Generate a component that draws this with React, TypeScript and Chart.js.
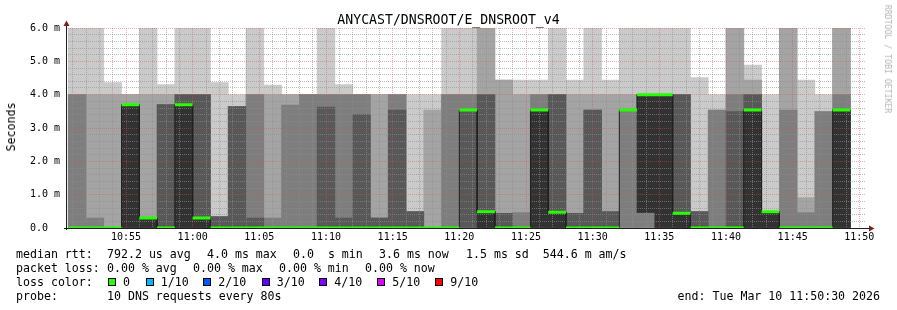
import React, { useEffect, useRef } from 'react';
import { Chart, registerables } from 'chart.js';

Chart.register(...registerables);

// ---------------- data ----------------
const TITLE = 'ANYCAST/DNSROOT/E_DNSROOT_v4';
const Y_AXIS_TITLE = 'Seconds';
const WATERMARK = 'RRDTOOL / TOBI OETIKER';

// time in seconds after the graph start (10:50:30); graph end 11:50:30
const RANGE_SEC = 3600;
const STEP_SEC = 80;
const FIRST_STEP_SEC = 10;
const TIME_TICK_LABELS = ['10:55', '11:00', '11:05', '11:10', '11:15', '11:20', '11:25', '11:30', '11:35', '11:40', '11:45', '11:50'];
const FIRST_TIME_TICK_SEC = 270;
const TIME_TICK_EVERY_SEC = 300;
const MINUTE_GRID_FIRST_SEC = 30;
const MINUTE_GRID_EVERY_SEC = 60;

const Y_MAX_MS = 6;
const Y_MINOR_MS = 0.2;
const Y_TICK_LABELS = ['0.0  ', '1.0 m', '2.0 m', '3.0 m', '4.0 m', '5.0 m', '6.0 m'];

// 10 sorted DNS round-trip times (ms) for every 80 s step
const PINGS_MS: number[][] = [
  [0, 0, 0, 0, 0, 0, 0, 4.0, 4.0, 6.0],
  [0, 0, 0, 0, 0, 0, 0, 0.3, 4.0, 6.0],
  [0, 0, 0, 0, 0, 0, 0, 0, 4.0, 4.36],
  [0, 0, 0, 0, 0, 3.7, 3.7, 3.7, 4.0, 4.0],
  [0, 0, 0, 0, 0, 0.3, 0.3, 0.3, 4.0, 6.0],
  [0, 0, 0, 0, 0, 0, 3.7, 3.7, 4.0, 4.3],
  [0, 0, 0, 0, 0, 3.7, 4.0, 4.0, 4.0, 6.0],
  [0, 0, 0, 0, 0, 0.3, 4.0, 4.0, 4.0, 6.0],
  [0, 0, 0, 0, 0, 0, 0.34, 0.34, 0.34, 4.36],
  [0, 0, 0, 0, 0, 0, 3.64, 3.64, 3.64, 4.0],
  [0, 0, 0, 0, 0, 0, 0.3, 4.0, 4.0, 6.0],
  [0, 0, 0, 0, 0, 0, 0, 0.3, 4.0, 4.29],
  [0, 0, 0, 0, 0, 0, 0, 3.69, 4.0, 4.0],
  [0, 0, 0, 0, 0, 0, 0, 4.0, 4.0, 4.0],
  [0, 0, 0, 0, 0, 0, 3.63, 4.0, 4.0, 6.0],
  [0, 0, 0, 0, 0, 0, 0.3, 4.0, 4.0, 4.3],
  [0, 0, 0, 0, 0, 0, 3.4, 4.0, 4.0, 4.0],
  [0, 0, 0, 0, 0, 0, 0.3, 0.3, 4.0, 4.0],
  [0, 0, 0, 0, 0, 0, 3.54, 4.0, 4.0, 4.0],
  [0, 0, 0, 0, 0, 0, 0.49, 0.49, 0.49, 4.0],
  [0, 0, 0, 0, 0, 0, 0, 0, 3.54, 4.0],
  [0, 0, 0, 0, 0, 0, 0, 4.0, 4.0, 6.0],
  [0, 0, 0, 0, 3.54, 3.54, 3.54, 4.0, 4.0, 6.0],
  [0, 0, 0, 0, 0, 0.49, 4.0, 4.0, 6.0, 6.0],
  [0, 0, 0, 0, 0, 0, 0.44, 0.44, 4.44, 4.44],
  [0, 0, 0, 0, 0, 0, 0, 0.46, 4.0, 4.44],
  [0, 0, 0, 0, 0, 3.54, 3.54, 4.0, 4.0, 4.44],
  [0, 0, 0, 0, 0, 0.47, 4.0, 4.0, 4.0, 6.0],
  [0, 0, 0, 0, 0, 0, 0.44, 0.44, 4.0, 4.44],
  [0, 0, 0, 0, 0, 0, 3.54, 3.54, 4.0, 6.0],
  [0, 0, 0, 0, 0, 0, 0.49, 0.49, 4.0, 4.44],
  [0, 0, 0, 3.54, 3.54, 3.54, 3.54, 3.54, 4.0, 6.0],
  [0, 0, 0, 0.47, 0.47, 4.0, 4.0, 4.0, 4.0, 6.0],
  [0, 0, 0, 0, 0, 4.0, 4.0, 4.0, 4.0, 6.0],
  [0, 0, 0, 0, 0, 0.44, 4.0, 4.0, 4.0, 6.0],
  [0, 0, 0, 0, 0, 0, 0.49, 0.49, 0.49, 4.51],
  [0, 0, 0, 0, 0, 0, 0, 3.54, 3.54, 4.0],
  [0, 0, 0, 0, 0, 0, 3.49, 4.0, 6.0, 6.0],
  [0, 0, 0, 0, 0, 3.54, 4.0, 4.0, 4.44, 4.89],
  [0, 0, 0, 0, 0, 0.49, 0.49, 0.49, 0.49, 4.0],
  [0, 0, 0, 0, 0, 0, 0, 3.54, 6.0, 6.0],
  [0, 0, 0, 0, 0, 0, 0, 0.46, 0.91, 4.44],
  [0, 0, 0, 0, 0, 0, 0, 3.49, 3.49, 4.0],
  [0, 0, 0, 0, 0, 3.54, 3.54, 4.0, 6.0, 6.0],
];

const MEDIAN_MS: number[] = [
  0, 0, 0, 3.7, 0.3, 0, 3.7, 0.3, 0, 0,
  0, 0, 0, 0, 0, 0, 0, 0, 0, 0,
  0, 0, 3.54, 0.49, 0, 0, 3.54, 0.47, 0, 0,
  0, 3.54, 4.0, 4.0, 0.44, 0, 0, 0, 3.54, 0.49,
  0, 0, 0, 3.54,
];

const SMOKE_GREYS = ['#cacaca', '#a4a4a4', '#7e7e7e', '#585858', '#323232'];
const MEDIAN_LOSS0_COLOR = '#26ff00';
const LOSS_COLORS = ['#26ff00', '#00b8ff', '#0059ff', '#5e00ff', '#7e00ff', '#dd00ff', '#ff0000'];
const LOSS_LABELS = ['0', '1/10', '2/10', '3/10', '4/10', '5/10', '9/10'];

// ---------------- layout ----------------
const W = 897;
const H = 310;
const PLOT_LEFT = 66;
const PLOT_RIGHT = 866;
const PLOT_TOP = 28;
const PLOT_BOTTOM = 228;
const MONO = "'DejaVu Sans Mono', monospace";
const GRID_MINOR = 'rgba(143,143,143,0.6)';
const GRID_MAJOR = 'rgba(222,79,79,0.45)';
const AXIS_COLOR = '#1f1f1f';
const ARROW_COLOR = '#801f1f';

const isInt = (v: number) => Math.abs(v - Math.round(v)) < 1e-9;
const stepStart = (k: number) => FIRST_STEP_SEC + k * STEP_SEC;

// median lines are drawn by their own controllers after the grid (rrdtool draws the grid under them)
const lateDrawPlugin = {
  id: 'rrdLate',
  beforeDatasetDraw(chart: any, args: any) {
    const ds = chart.data.datasets[args.index];
    if (ds && ds.$late && !chart.$lateNow) return false;
    return true;
  },
  afterDraw(chart: any) {
    chart.$lateNow = true;
    chart.data.datasets.forEach((ds: any, i: number) => {
      if (ds.$late) chart._drawDataset(chart.getDatasetMeta(i));
    });
    chart.$lateNow = false;

    const { ctx, chartArea: a } = chart;
    ctx.save();
    ctx.strokeStyle = AXIS_COLOR;
    ctx.lineWidth = 1;
    ctx.beginPath();
    ctx.moveTo(a.left - 2, a.bottom + 0.5);
    ctx.lineTo(a.right + 4, a.bottom + 0.5);
    ctx.moveTo(a.left + 0.5, a.bottom + 2);
    ctx.lineTo(a.left + 0.5, a.top - 4);
    ctx.stroke();
    ctx.fillStyle = ARROW_COLOR;
    ctx.beginPath();
    ctx.moveTo(a.left + 0.5, a.top - 7.5);
    ctx.lineTo(a.left - 2.5, a.top - 2);
    ctx.lineTo(a.left + 3.5, a.top - 2);
    ctx.closePath();
    ctx.fill();
    ctx.beginPath();
    ctx.moveTo(a.right + 8.5, a.bottom + 0.5);
    ctx.lineTo(a.right + 3, a.bottom - 2.5);
    ctx.lineTo(a.right + 3, a.bottom + 3.5);
    ctx.closePath();
    ctx.fill();
    ctx.restore();
  },
};

function SmokeChart() {
  const ref = useRef<HTMLCanvasElement>(null);
  useEffect(() => {
    if (!ref.current) return;
    const barPx = ((PLOT_RIGHT - PLOT_LEFT) * STEP_SEC) / RANGE_SEC;
    const nPings = PINGS_MS[0].length;

    const smoke = SMOKE_GREYS.map((color, b) => ({
      type: 'bar' as const,
      label: `smoke${b + 1}`,
      data: PINGS_MS.map((p, k) => ({ x: stepStart(k) + STEP_SEC / 2, y: [p[b], p[nPings - 1 - b]] })).filter(
        (d) => d.y[1] > d.y[0],
      ),
      backgroundColor: color,
      borderWidth: 0,
      grouped: false,
      barThickness: barPx,
      order: 20 - b,
    }));

    const medianPath = MEDIAN_MS.flatMap((m, k) => [
      { x: stepStart(k), y: m },
      { x: stepStart(k) + STEP_SEC, y: m },
    ]);
    const medianLoss0 = MEDIAN_MS.flatMap((m, k) => [
      { x: stepStart(k), y: m },
      { x: stepStart(k) + STEP_SEC, y: m },
      { x: stepStart(k) + STEP_SEC, y: null },
    ]);

    const minuteTicks: { value: number }[] = [];
    for (let t = MINUTE_GRID_FIRST_SEC; t < RANGE_SEC; t += MINUTE_GRID_EVERY_SEC) minuteTicks.push({ value: t });
    const yTicks: { value: number }[] = [];
    for (let i = 0; i <= Math.round(Y_MAX_MS / Y_MINOR_MS); i++) yTicks.push({ value: +(i * Y_MINOR_MS).toFixed(6) });

    const isMajorTime = (v: number) => (v - FIRST_TIME_TICK_SEC) % TIME_TICK_EVERY_SEC === 0;

    const chart = new Chart(ref.current, {
      type: 'bar',
      data: {
        datasets: [
          ...smoke,
          {
            type: 'line' as const,
            label: 'median',
            data: medianPath as any,
            borderColor: '#202020',
            borderWidth: 1,
            pointRadius: 0,
            fill: false,
            order: 1,
            $late: true,
          },
          {
            type: 'line' as const,
            label: 'median loss 0',
            data: medianLoss0 as any,
            borderColor: MEDIAN_LOSS0_COLOR,
            borderWidth: 3,
            borderCapStyle: 'butt',
            pointRadius: 0,
            spanGaps: false,
            fill: false,
            clip: 0,
            order: 0,
            $late: true,
          },
        ] as any,
      },
      options: {
        animation: false,
        responsive: false,
        devicePixelRatio: 1,
        events: [],
        layout: { padding: { left: 0, top: PLOT_TOP, right: W - PLOT_RIGHT, bottom: 0 } },
        plugins: { legend: { display: false }, tooltip: { enabled: false }, title: { display: false } },
        scales: {
          x: {
            type: 'linear',
            min: 0,
            max: RANGE_SEC,
            offset: false,
            afterFit: (s: any) => {
              s.height = H - PLOT_BOTTOM;
            },
            afterBuildTicks: (s: any) => {
              s.ticks = minuteTicks.map((t) => ({ ...t }));
            },
            ticks: {
              autoSkip: false,
              maxRotation: 0,
              minRotation: 0,
              padding: 3,
              color: '#000',
              font: { family: MONO, size: 10 },
              callback: (v: any) => {
                const i = (Number(v) - FIRST_TIME_TICK_SEC) / TIME_TICK_EVERY_SEC;
                return Number.isInteger(i) && i >= 0 && i < TIME_TICK_LABELS.length ? TIME_TICK_LABELS[i] : '';
              },
            },
            grid: {
              offset: false,
              drawTicks: false,
              lineWidth: 1,
              z: 1,
              color: (c: any) => (c.tick && isMajorTime(c.tick.value) ? GRID_MAJOR : GRID_MINOR),
            },
            border: { display: false, dash: [1, 1] },
          } as any,
          y: {
            type: 'linear',
            min: 0,
            max: Y_MAX_MS,
            afterFit: (s: any) => {
              s.width = PLOT_LEFT;
            },
            afterBuildTicks: (s: any) => {
              s.ticks = yTicks.map((t) => ({ ...t }));
            },
            ticks: {
              autoSkip: false,
              padding: 6,
              color: '#000',
              font: { family: MONO, size: 10 },
              callback: (v: any) => (isInt(Number(v)) ? Y_TICK_LABELS[Math.round(Number(v))] : ''),
            },
            grid: {
              drawTicks: false,
              lineWidth: 1,
              z: 1,
              color: (c: any) => (c.tick && isInt(c.tick.value) ? GRID_MAJOR : GRID_MINOR),
            },
            border: { display: false, dash: [1, 1] },
          } as any,
        },
      },
      plugins: [lateDrawPlugin],
    });
    return () => chart.destroy();
  }, []);
  return <canvas ref={ref} width={W} height={H} style={{ position: 'absolute', left: 0, top: 0, width: W, height: H }} />;
}

const LEGEND_FONT = 11.6;
const textStyle = (left: number, top: number): React.CSSProperties => ({
  position: 'absolute',
  left,
  top,
  fontFamily: MONO,
  fontSize: LEGEND_FONT,
  lineHeight: '14px',
  whiteSpace: 'pre',
  color: '#000',
});

const LEGEND_SQUARE_X = [108, 145.7, 203.3, 261.7, 319.3, 377.3, 435.3];

export default function App() {
  return (
    <div style={{ position: 'absolute', left: 0, top: 0, width: W, height: H, background: '#fff', overflow: 'hidden' }}>
      <SmokeChart />
      <div
        style={{
          position: 'absolute',
          left: 0,
          top: 12.4,
          width: W,
          textAlign: 'center',
          fontFamily: MONO,
          fontSize: 13.2,
          lineHeight: '16px',
          whiteSpace: 'pre',
          color: '#000',
        }}
      >
        {TITLE}
      </div>
      <div
        style={{
          position: 'absolute',
          left: 11,
          top: 127,
          transform: 'translate(-50%, -50%) rotate(-90deg)',
          fontFamily: MONO,
          fontSize: LEGEND_FONT,
          lineHeight: '14px',
          whiteSpace: 'pre',
          color: '#000',
        }}
      >
        {Y_AXIS_TITLE}
      </div>
      <div
        style={{
          position: 'absolute',
          left: 887.5,
          top: 59,
          transform: 'translate(-50%, -50%) rotate(90deg)',
          fontFamily: MONO,
          fontSize: 8.2,
          lineHeight: '10px',
          whiteSpace: 'pre',
          color: '#b4b4b4',
        }}
      >
        {WATERMARK}
      </div>

      <div style={textStyle(16, 247.3)}>median rtt:</div>
      <div style={textStyle(107, 247.3)}>792.2 us avg</div>
      <div style={textStyle(207, 247.3)}>4.0 ms max</div>
      <div style={textStyle(293, 247.3)}>0.0  s min</div>
      <div style={textStyle(379, 247.3)}>3.6 ms now</div>
      <div style={textStyle(466, 247.3)}>1.5 ms sd  544.6 m am/s</div>

      <div style={textStyle(16, 261.3)}>packet loss:</div>
      <div style={textStyle(107, 261.3)}>0.00 % avg</div>
      <div style={textStyle(193, 261.3)}>0.00 % max</div>
      <div style={textStyle(279, 261.3)}>0.00 % min</div>
      <div style={textStyle(365, 261.3)}>0.00 % now</div>

      <div style={textStyle(16, 275.3)}>loss color:</div>
      {LOSS_COLORS.map((c, i) => (
        <React.Fragment key={i}>
          <div
            style={{
              position: 'absolute',
              left: LEGEND_SQUARE_X[i],
              top: 278,
              width: 8,
              height: 8,
              boxSizing: 'border-box',
              border: '1px solid #000',
              background: c,
            }}
          />
          <div style={textStyle(LEGEND_SQUARE_X[i] + 15, 275.3)}>{LOSS_LABELS[i]}</div>
        </React.Fragment>
      ))}

      <div style={textStyle(16, 289.3)}>probe:</div>
      <div style={textStyle(107, 289.3)}>10 DNS requests every 80s</div>
      <div style={{ ...textStyle(0, 289.3), left: undefined, right: 17 }}>end: Tue Mar 10 11:50:30 2026</div>
    </div>
  );
}
